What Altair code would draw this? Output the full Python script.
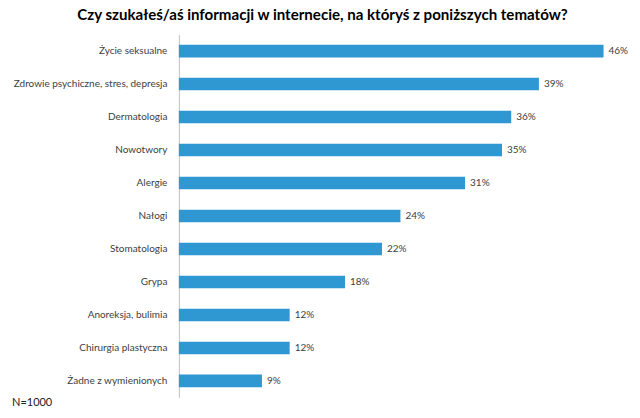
import altair as alt
import pandas as pd

categories = [
    "Życie seksualne",
    "Zdrowie psychiczne, stres, depresja",
    "Dermatologia",
    "Nowotwory",
    "Alergie",
    "Nałogi",
    "Stomatologia",
    "Grypa",
    "Anoreksja, bulimia",
    "Chirurgia plastyczna",
    "Żadne z wymienionych",
]
values = [46, 39, 36, 35, 31, 24, 22, 18, 12, 12, 9]
title_text = "Czy szukałeś/aś informacji w internecie, na któryś z poniższych tematów?"
note_text = "N=1000"

df = pd.DataFrame({"cat": categories, "val": values})
df["label"] = df["val"].astype(str) + "%"

W = 443.5
H = 363
FONT = "Lato"

base = alt.Chart(df).encode(
    y=alt.Y(
        "cat:N",
        sort=categories,
        title=None,
        scale=alt.Scale(paddingInner=0.62, paddingOuter=0.31),
        axis=alt.Axis(
            ticks=False,
            domainColor="#BFBFBF",
            labelPadding=12,
            labelFontSize=10,
            labelColor="#404040",
            labelFont=FONT,
            labelLimit=0,
        ),
    ),
    x=alt.X("val:Q", scale=alt.Scale(domain=[0, 48]), axis=None),
)

bars = base.mark_bar(color="#2F97D1")
labels = base.mark_text(
    align="left", dx=5, fontSize=10, color="#404040", font=FONT
).encode(text="label:N")

note = alt.Chart(pd.DataFrame({"t": [note_text]})).mark_text(
    align="left", baseline="alphabetic", fontSize=11, color="#202020", font=FONT
).encode(x=alt.value(-167), y=alt.value(H + 8.5), text="t:N")

chart = alt.layer(bars, labels, note).properties(
    width=W,
    height=H,
    autosize=alt.AutoSizeParams(type="none"),
    padding={"left": 171, "top": 26.5, "right": 10, "bottom": 20},
    title=alt.TitleParams(
        title_text,
        anchor="middle",
        frame="group",
        dx=-78,
        fontSize=15.1,
        fontWeight="bold",
        font=FONT,
        color="#000000",
        offset=12,
    ),
).configure_view(stroke=None)

chart.save("out.html", embed_options={"renderer": "svg", "actions": False})
